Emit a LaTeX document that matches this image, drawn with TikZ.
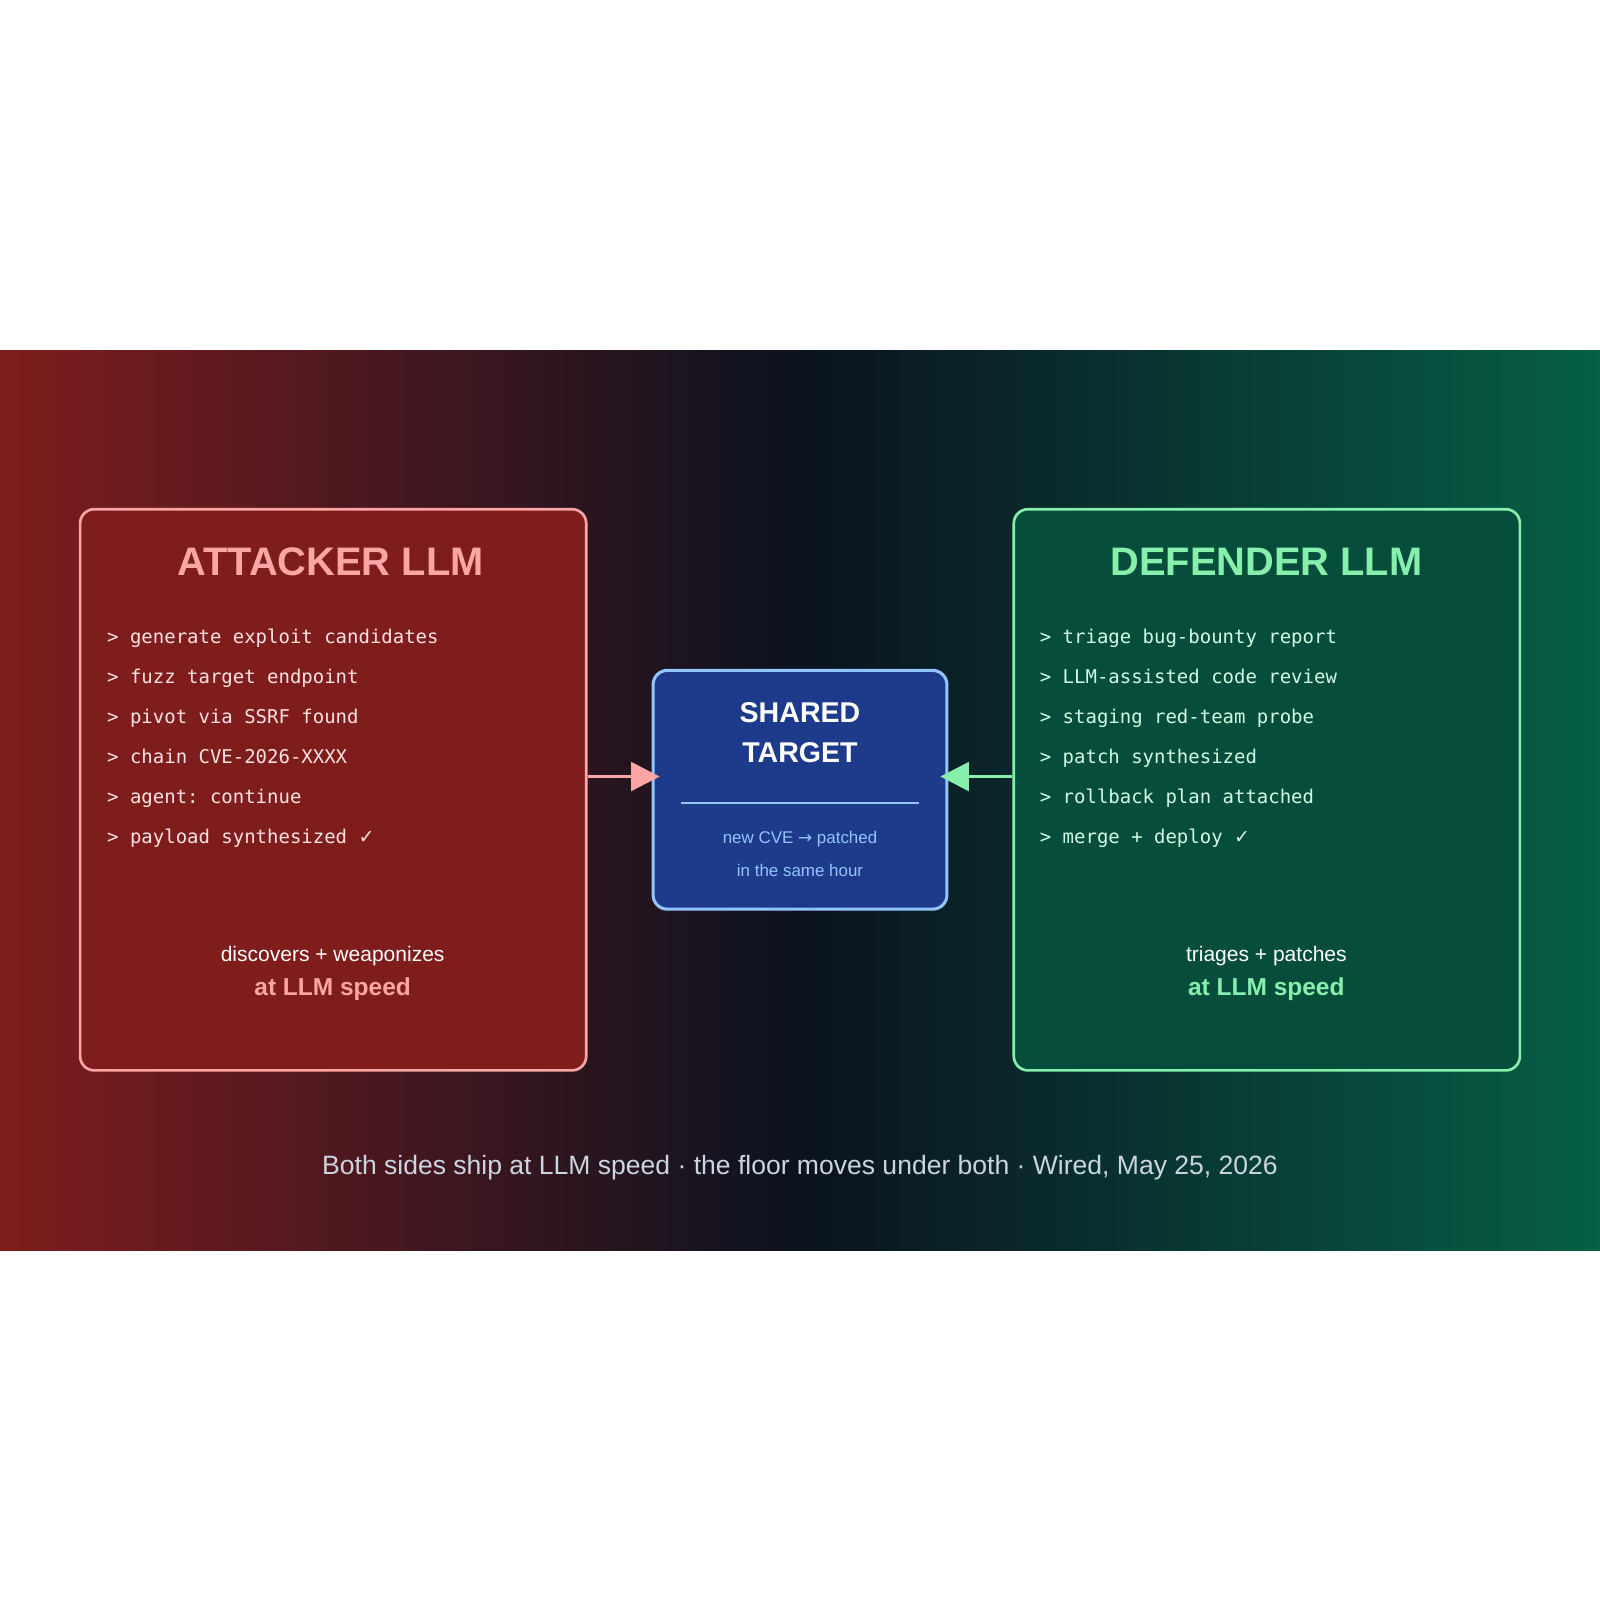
\documentclass[tikz,border=0pt]{standalone}
\usepackage{fontspec}
\setmainfont{Liberation Sans}
\setmonofont{DejaVu Sans Mono}
\newfontfamily\djv{DejaVu Sans}
\usetikzlibrary{arrows.meta}
\definecolor{redL}{HTML}{7F1D1D}
\definecolor{bgmid}{HTML}{0B1220}
\definecolor{greenR}{HTML}{065F46}
\definecolor{attfill}{HTML}{7F1D1D}
\definecolor{attline}{HTML}{FCA5A5}
\definecolor{deffill}{HTML}{064E3B}
\definecolor{defline}{HTML}{86EFAC}
\definecolor{tgtfill}{HTML}{1E3A8A}
\definecolor{tgtline}{HTML}{93C5FD}
\definecolor{foot}{HTML}{CBD5E1}
\definecolor{monoR}{HTML}{FDE2E2}
\definecolor{monoG}{HTML}{D1FAE5}
\begin{document}
\begin{tikzpicture}[x=0.5pt,y=-0.5pt,
  box/.style={draw,line width=1.3pt,rounded corners=7pt},
  mono/.style={anchor=base west,font=\ttfamily\fontsize{9.3}{11}\selectfont},
  title/.style={font=\bfseries\fontsize{19.5}{22}\selectfont},
  arr/.style={line width=1.6pt,-{Triangle[length=14pt,width=14pt]}}]
\useasboundingbox (0,0) rectangle (1568,1568);
\fill[white] (0,0) rectangle (1568,1568);
\shade[left color=redL,right color=bgmid] (0,343) rectangle (784,1225);
\shade[left color=bgmid,right color=greenR] (784,343) rectangle (1568,1225);
% boxes
\node[box,draw=attline,fill=attfill,minimum width=248pt,minimum height=275pt,inner sep=0] (att) at (326.5,774) {};
\node[box,draw=defline,fill=deffill,minimum width=248pt,minimum height=275pt,inner sep=0] (def) at (1241.5,774) {};
\node[box,draw=tgtline,fill=tgtfill,minimum width=144pt,minimum height=117pt,inner sep=0,line width=1.5pt] (tgt) at (784,774) {};
% titles
\node[title,text=attline] (attT) at (324,551) {ATTACKER LLM};
\node[title,text=defline] (defT) at (1241,551) {DEFENDER LLM};
\node[font=\bfseries\fontsize{14}{19.5}\selectfont,text=white,align=center] (tgtT) at (784,718) {SHARED\\TARGET};
\draw[tgtline,line width=0.6pt] (667,787) -- (901,787);
\node[text=tgtline,font=\fontsize{8.3}{16.5}\selectfont,align=center] (tgtS) at (784,837) {new CVE {\djv\char"2192} patched\\in the same hour};
% lists
\foreach \t [count=\i] in {generate exploit candidates,fuzz target endpoint,pivot via SSRF found,chain CVE-2026-XXXX,agent: continue}
  \node[mono,text=monoR] (a\i) at (98,{631+39.2*(\i-1)}) {> \t};
\node[mono,text=monoR] (a6) at (98,827) {> payload synthesized {\djv\char"2713}};
\foreach \t [count=\i] in {triage bug-bounty report,LLM-assisted code review,staging red-team probe,patch synthesized,rollback plan attached}
  \node[mono,text=monoG] (d\i) at (1012,{631+39.2*(\i-1)}) {> \t};
\node[mono,text=monoG] (d6) at (1012,827) {> merge + deploy {\djv\char"2713}};
% bottom
\node[text=white,font=\fontsize{10.3}{12}\selectfont] (attB) at (326,937) {discovers + weaponizes};
\node[text=attline,font=\bfseries\fontsize{12}{14}\selectfont] (attS) at (326,969) {at LLM speed};
\node[text=white,font=\fontsize{10.3}{12}\selectfont] (defB) at (1241,937) {triages + patches};
\node[text=defline,font=\bfseries\fontsize{12}{14}\selectfont] (defS) at (1241,969) {at LLM speed};
% arrows
\coordinate (ay) at (0,761);
\draw[arr,attline] (att.east |- ay) -- ([xshift=4pt]tgt.west |- ay);
\draw[arr,defline] (def.west |- ay) -- ([xshift=-4pt]tgt.east |- ay);
\node[text=foot,font=\fontsize{13}{15}\selectfont] (foot) at (784,1144) {Both sides ship at LLM speed · the floor moves under both · Wired, May 25, 2026};
\end{tikzpicture}
\end{document}
